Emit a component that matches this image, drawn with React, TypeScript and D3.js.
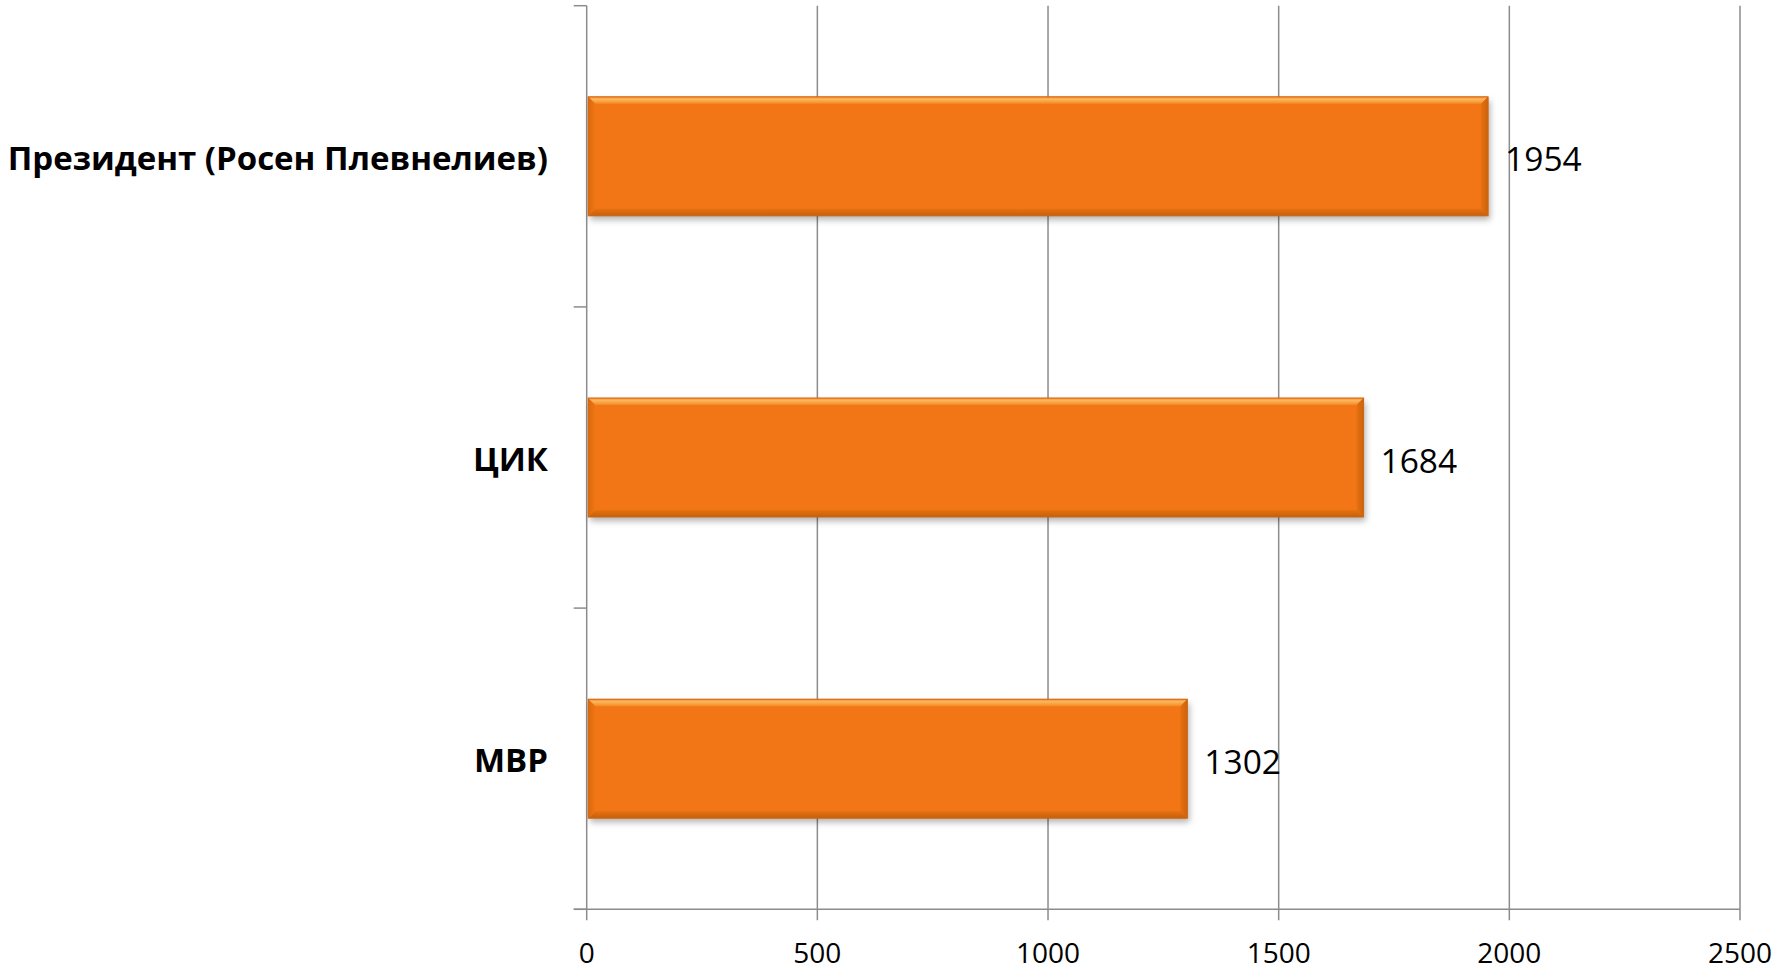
import React from "react";
import * as d3 from "d3";

const categories = ["Президент (Росен Плевнелиев)", "ЦИК", "МВР"];
const values = [1954, 1684, 1302];
const xTicks = [0, 500, 1000, 1500, 2000, 2500];

const W = 1777;
const H = 972;

export default function App() {
  const x = d3.scaleLinear().domain([0, 2500]).range([586.7, 1740]);
  const y = d3
    .scaleBand<string>()
    .domain(categories)
    .range([5.7, 909.3])
    .paddingInner(0.605)
    .paddingOuter(0.3025);
  const outer = d3.scaleBand<string>().domain(categories).range([5.7, 909.3]);
  const x0 = x(0);
  const yTop = 5.7;
  const yBot = 909.3;
  const grid = "#8c8c8c";
  const b = 7;
  const catTicks = [yTop, ...categories.map((c) => (outer(c) as number) + outer.bandwidth())];

  return (
    <svg
      width={W}
      height={H}
      style={{ position: "absolute", left: 0, top: 0, background: "#fff" }}
    >
      <defs>
        <filter id="shadow" x="-5%" y="-20%" width="110%" height="150%">
          <feDropShadow dx="2" dy="4" stdDeviation="3" floodColor="#000" floodOpacity="0.3" />
        </filter>
        <linearGradient id="topBevel" x1="0" y1="0" x2="0" y2="1">
          <stop offset="0" stopColor="#f98f2a" />
          <stop offset="0.35" stopColor="#fcb660" />
          <stop offset="1" stopColor="#f58a22" />
        </linearGradient>
        <linearGradient id="botBevel" x1="0" y1="0" x2="0" y2="1">
          <stop offset="0" stopColor="#e8700f" />
          <stop offset="1" stopColor="#c4600f" />
        </linearGradient>
        <linearGradient id="leftBevel" x1="0" y1="0" x2="1" y2="0">
          <stop offset="0" stopColor="#d96a10" />
          <stop offset="1" stopColor="#f07512" />
        </linearGradient>
        <linearGradient id="rightBevel" x1="0" y1="0" x2="1" y2="0">
          <stop offset="0" stopColor="#e8700f" />
          <stop offset="1" stopColor="#c9630f" />
        </linearGradient>
      </defs>

      {/* vertical gridlines */}
      {xTicks.map((t) => (
        <line
          key={"g" + t}
          x1={x(t)}
          x2={x(t)}
          y1={yTop}
          y2={yBot + 11}
          stroke={grid}
          strokeWidth={1.5}
        />
      ))}
      {/* x axis line */}
      <line x1={x0 - 13} x2={x(2500)} y1={yBot} y2={yBot} stroke={grid} strokeWidth={1.5} />
      {/* category axis ticks */}
      {catTicks.map((t, i) => (
        <line key={"ct" + i} x1={x0 - 13} x2={x0} y1={t} y2={t} stroke={grid} strokeWidth={1.5} />
      ))}
      {/* x tick labels */}
      {xTicks.map((t) => (
        <text
          key={"l" + t}
          x={x(t)}
          y={963}
          textAnchor="middle"
          fontFamily="'Open Sans', sans-serif"
          fontSize={28}
          fill="#000"
        >
          {t}
        </text>
      ))}

      {/* bars */}
      {categories.map((c, i) => {
        const bx0 = x0 + 1.5;
        const bx1 = x(values[i]);
        const by0 = y(c) as number;
        const by1 = by0 + y.bandwidth();
        return (
          <g key={"b" + c}>
            <rect
              x={bx0}
              y={by0}
              width={bx1 - bx0}
              height={by1 - by0}
              fill="#f27613"
              filter="url(#shadow)"
            />
            <polygon
              points={`${bx0},${by0} ${bx1},${by0} ${bx1 - b},${by0 + b} ${bx0 + b},${by0 + b}`}
              fill="url(#topBevel)"
            />
            <polygon
              points={`${bx0},${by1} ${bx1},${by1} ${bx1 - b},${by1 - b} ${bx0 + b},${by1 - b}`}
              fill="url(#botBevel)"
            />
            <polygon
              points={`${bx0},${by0} ${bx0 + b},${by0 + b} ${bx0 + b},${by1 - b} ${bx0},${by1}`}
              fill="url(#leftBevel)"
            />
            <polygon
              points={`${bx1},${by0} ${bx1 - b},${by0 + b} ${bx1 - b},${by1 - b} ${bx1},${by1}`}
              fill="url(#rightBevel)"
            />
            <rect
              x={bx0}
              y={by0}
              width={bx1 - bx0}
              height={by1 - by0}
              fill="none"
              stroke="#d0650f"
              strokeWidth={1}
            />
            <text
              x={bx1 + 17}
              y={(by0 + by1) / 2 + 2}
              dominantBaseline="central"
              fontFamily="'Open Sans', sans-serif"
              fontSize={33.5}
              fill="#000"
            >
              {values[i]}
            </text>
          </g>
        );
      })}

      {/* category labels */}
      {categories.map((c) => (
        <text
          key={"c" + c}
          x={548}
          y={(outer(c) as number) + outer.bandwidth() / 2 + 1}
          textAnchor="end"
          dominantBaseline="central"
          fontFamily="'Open Sans', sans-serif"
          fontWeight="bold"
          fontSize={33}
          fill="#000"
        >
          {c}
        </text>
      ))}
    </svg>
  );
}
